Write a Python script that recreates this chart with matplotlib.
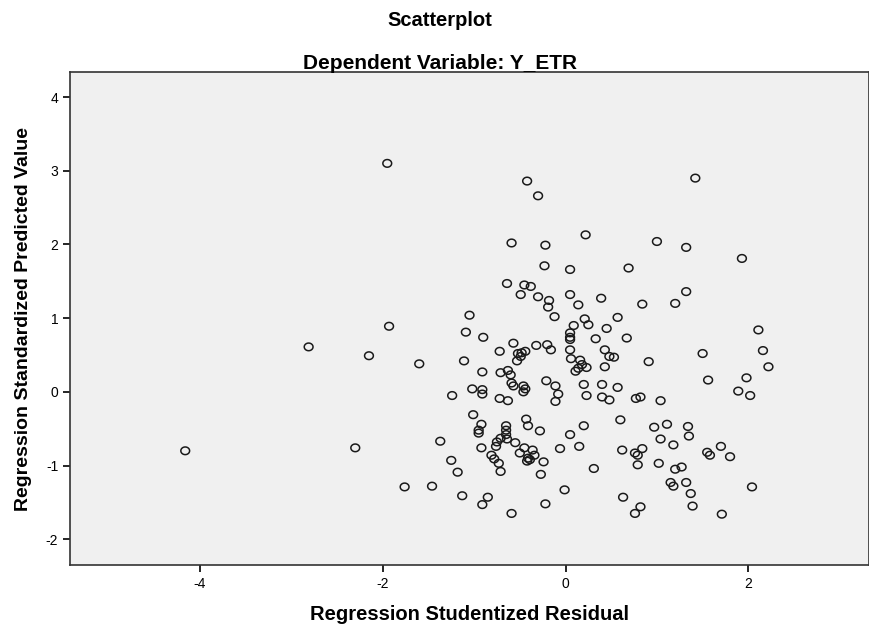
import numpy as np
import matplotlib
matplotlib.use("Agg")
import matplotlib.pyplot as plt
from matplotlib.path import Path

plt.rcParams['font.family'] = ['Liberation Sans', 'DejaVu Sans']
plt.rcParams['axes.unicode_minus'] = False

# Regression Studentized Residual (x) / Regression Standardized Predicted Value (y)
resid = [-4.16, -2.81, -2.15, -1.93, -1.60, -2.30, -1.76, -1.46, -1.95,
         -0.42, -0.30, 0.22, -0.59, -0.22, -0.23, 0.05, -0.64, -0.45, -0.38,
         -0.49, -0.30, 0.05, -0.18, 0.14, 0.39, -0.19, -0.12, -1.05, 0.09,
         0.21, 0.25, 0.45, 0.57, -1.09,
         1.42, 1.00, 1.32, 1.93, 0.69, 1.32, 0.84, 1.20, 2.11,
         -0.90, -0.57, -0.72, -0.52, -0.48, -0.44, -0.49, -0.53, -0.32, -0.20,
         -0.16, 0.05, 0.05, 0.05, 0.05, 0.06, 0.16, 0.18, 0.23, 0.11, 0.14,
         0.33, 0.67, 0.43, 0.48, 0.53, 0.43, 0.91,
         -1.11, -0.91, -0.71, -0.63, -0.60, -0.59, -0.57, -0.46, -0.44, -0.46,
         -1.02, -0.91, -0.91, -1.24, -0.72, -0.63, -0.21, -0.11, -0.08, -0.11,
         0.20, 0.40, 0.57, 0.23, 0.40, 0.48, 0.77, 0.82, 1.04, 1.50, 1.56,
         1.89, 1.98, 2.02, 2.16, 2.22,
         -1.01, -0.92, -0.95, -0.95, -0.65, -0.65, -0.65, -0.43, -0.41, -0.28,
         0.05, -1.37,
         0.60, 0.20, 0.97, 1.11, 1.34, 1.04, 1.18, 1.35, 0.15, 0.62, 0.84,
         1.55, 1.58, 1.70, 1.80,
         -0.92, -0.75, -0.71, -0.64, -0.55, -0.76, -0.81, -0.78, -0.73, -0.71,
         -0.50, -0.45, -0.41, -0.36, -0.34, -0.42, -0.39, -0.24, -0.27, -0.06,
         -1.25, -1.18, -1.13, -0.85, -0.91, -0.59, -0.01, -0.22,
         0.76, 0.79, 0.79, 0.31, 1.02, 1.20, 1.27, 1.15, 1.18, 1.32, 1.37,
         1.39, 2.04, 1.71, 0.63, 0.82, 0.76]
pred = [-0.80, 0.61, 0.49, 0.89, 0.38, -0.76, -1.29, -1.28, 3.10,
        2.86, 2.66, 2.13, 2.02, 1.99, 1.71, 1.66, 1.47, 1.45, 1.43,
        1.32, 1.29, 1.32, 1.24, 1.18, 1.27, 1.15, 1.02, 1.04, 0.90,
        0.99, 0.91, 0.86, 1.01, 0.81,
        2.90, 2.04, 1.96, 1.81, 1.68, 1.36, 1.19, 1.20, 0.84,
        0.74, 0.66, 0.55, 0.52, 0.53, 0.55, 0.48, 0.42, 0.63, 0.64,
        0.57, 0.80, 0.74, 0.71, 0.57, 0.45, 0.43, 0.37, 0.33, 0.28, 0.32,
        0.72, 0.73, 0.57, 0.48, 0.47, 0.34, 0.41,
        0.42, 0.27, 0.26, 0.29, 0.23, 0.12, 0.08, 0.08, 0.04, 0.00,
        0.04, 0.03, -0.03, -0.05, -0.09, -0.12, 0.15, 0.08, -0.03, -0.13,
        0.10, 0.10, 0.06, -0.05, -0.07, -0.11, -0.09, -0.07, -0.12, 0.52, 0.16,
        0.01, 0.19, -0.05, 0.56, 0.34,
        -0.31, -0.44, -0.52, -0.56, -0.46, -0.52, -0.58, -0.37, -0.46, -0.53,
        -0.58, -0.67,
        -0.38, -0.46, -0.48, -0.44, -0.47, -0.64, -0.72, -0.60, -0.74, -0.79, -0.77,
        -0.82, -0.86, -0.74, -0.88,
        -0.76, -0.68, -0.63, -0.64, -0.69, -0.74, -0.86, -0.91, -0.97, -1.08,
        -0.83, -0.76, -0.90, -0.79, -0.86, -0.94, -0.92, -0.95, -1.12, -0.77,
        -0.93, -1.09, -1.41, -1.43, -1.53, -1.65, -1.33, -1.52,
        -0.83, -0.86, -0.99, -1.04, -0.97, -1.05, -1.02, -1.23, -1.28, -1.23, -1.38,
        -1.55, -1.29, -1.66, -1.43, -1.56, -1.65]

x_ticks = [-4, -2, 0, 2]
y_ticks = [-2, -1, 0, 1, 2, 3, 4]

# SPSS style open circle, a touch wider than tall
t = np.linspace(0, 2 * np.pi, 60)
oval = Path(np.column_stack([1.15 * np.cos(t), np.sin(t)]), closed=True)

fig = plt.figure(figsize=(8.69, 6.26), dpi=100)
ax = fig.add_axes([0.0806, 0.0974, 0.9194, 0.7876])
ax.set_facecolor('#f0f0f0')

ax.scatter(resid, pred, marker=oval, s=40, facecolors='none',
           edgecolors='#1a1a1a', linewidths=1.1)

ax.set_xlim(-5.42, 3.32)
ax.set_ylim(-2.35, 4.34)
ax.set_xticks(x_ticks)
ax.set_yticks(y_ticks)
ax.tick_params(direction='out', length=5, width=1.2, labelsize=10, colors='black')
for s in ax.spines.values():
    s.set_linewidth(1.2)
    s.set_color('#333333')

ax.set_xlabel('Regression Studentized Residual', fontsize=14.5,
              fontweight='bold', labelpad=10)
ax.set_ylabel('Regression Standardized Predicted Value', fontsize=14,
              fontweight='bold', labelpad=10)

fig.text(0.506, 0.968, 'Scatterplot', ha='center', va='center',
         fontsize=14.5, fontweight='bold')
fig.text(0.506, 0.899, 'Dependent Variable: Y_ETR', ha='center', va='center',
         fontsize=15, fontweight='bold')

fig.savefig('out.png', dpi=100)
